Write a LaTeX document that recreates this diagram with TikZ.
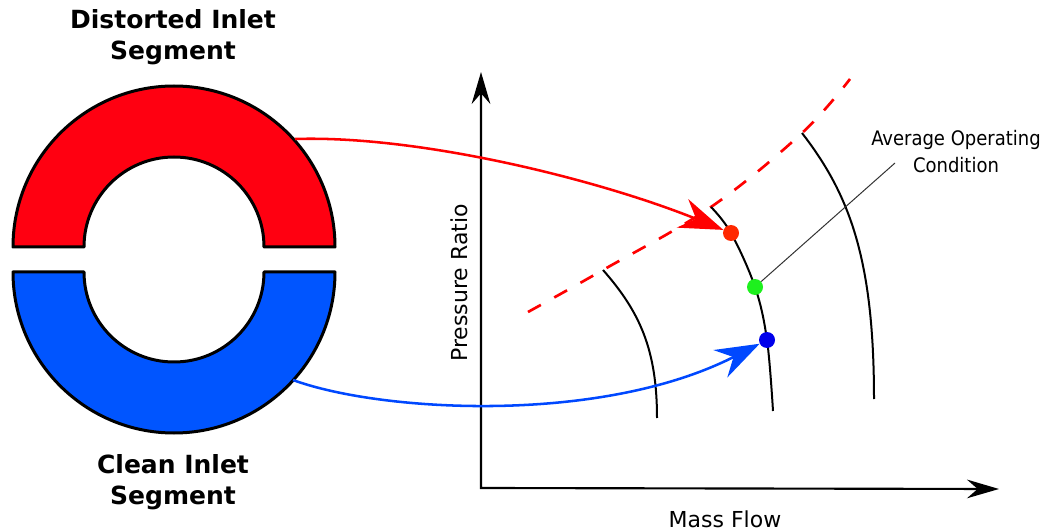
\documentclass[tikz,border=0pt]{standalone}
\usepackage{fontspec}
\setmainfont{DejaVu Sans}
\newfontfamily\condfont{DejaVu Sans Condensed}
\usetikzlibrary{arrows.meta}
\definecolor{ringred}{RGB}{255,0,17}
\definecolor{ringblue}{RGB}{0,85,255}
\definecolor{arrred}{RGB}{255,0,0}
\definecolor{arrblue}{RGB}{0,72,255}
\definecolor{dotred}{RGB}{255,40,0}
\definecolor{dotgreen}{RGB}{30,240,30}
\definecolor{dotblue}{RGB}{0,0,235}
\begin{document}
\begin{tikzpicture}[x=0.75pt,y=-0.75pt,
  annulus/.style={draw=black, line width=2.25pt, line join=round},
  speedline/.style={draw=black, line width=1.5pt},
  surge/.style={draw=arrred, line width=2pt, dash pattern=on 11pt off 11.5pt},
  axis/.style={draw=black, line width=1.6pt, line join=miter,
    {Stealth[length=24pt,width=14pt,inset=8pt]}-{Stealth[length=24pt,width=14pt,inset=8pt]}},
  flowarrow/.style={line width=1.9pt, -{Stealth[length=33pt,width=23pt,inset=11pt]}},
  opdot/.style={circle, inner sep=0pt, minimum size=12pt},
  leader/.style={draw=black!80, line width=0.75pt},
  title/.style={font=\fontsize{18.75}{23.25}\selectfont\bfseries, align=center, inner sep=0pt},
  axlabel/.style={font=\fontsize{16.5}{20}\selectfont, inner sep=0pt},
  avglabel/.style={font=\condfont\fontsize{15}{20.25}\selectfont, align=center, inner sep=0pt}]
\useasboundingbox (0,0) rectangle (1047,531);

% inlet segments
\path[annulus, fill=ringred] (13,247) arc[start angle=180, end angle=0, radius=120.75pt]
  -- (264,247) arc[start angle=0, end angle=180, radius=67.5pt] -- cycle;
\path[annulus, fill=ringblue] (13,272) arc[start angle=180, end angle=360, radius=120.75pt]
  -- (264,272) arc[start angle=360, end angle=180, radius=67.5pt] -- cycle;

% titles
\node[title, anchor=north] (dtitle) at (173,9) {Distorted Inlet\\Segment};
\node[title, anchor=north] (ctitle) at (173,454) {Clean Inlet\\Segment};

% axes
\coordinate (origin) at (481,488);
\coordinate (ytip) at (481,72);
\coordinate (xtip) at (999,489);
\draw[axis] (ytip) -- (origin) -- (xtip);
\node[axlabel, anchor=base] (xlabel) at (725,527) {Mass Flow};
\node[axlabel, rotate=90, anchor=base] (ylabel) at (467,283) {Pressure Ratio};

% surge line
\draw[surge] plot[smooth, tension=0.6] coordinates {(528,312) (603,270) (711,207) (802,133) (850,79)};

% speed lines
\draw[speedline] (603,270) .. controls (640,312) and (657,350) .. (657,418);
\draw[speedline] plot[smooth, tension=0.6] coordinates {(711,207) (731,233) (755,287) (767,340) (773,411)};
\draw[speedline] (802,133) .. controls (850,195) and (874,260) .. (874,399);

% operating points
\node[opdot, fill=dotred] (reddot) at (731,233) {};
\node[opdot, fill=dotgreen] (greendot) at (755,287) {};
\node[opdot, fill=dotblue] (bluedot) at (767,340) {};

% flow arrows
\coordinate (redsrc) at (295,139);
\coordinate (bluesrc) at (293,380);
\draw[flowarrow, draw=arrred] (redsrc) .. controls (420,135) and (600,180) .. (reddot);
\draw[flowarrow, draw=arrblue] (bluesrc) .. controls (380,412) and (600,425) .. (bluedot);

% label
\coordinate (leaderend) at (895,163);
\draw[leader] (greendot) -- (leaderend);
\node[avglabel, anchor=north] (avg) at (956,130) {Average Operating\\Condition};
\end{tikzpicture}
\end{document}
